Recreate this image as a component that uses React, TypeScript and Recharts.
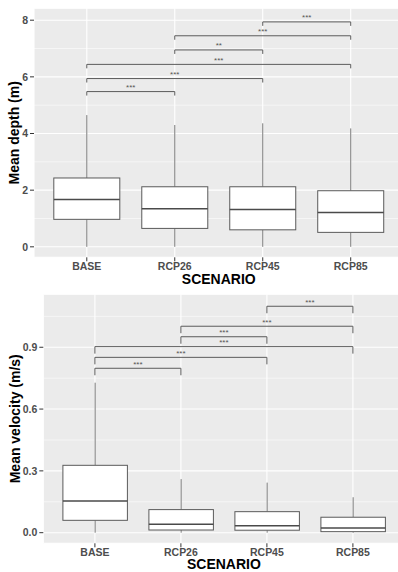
import { ComposedChart, Bar, XAxis, YAxis, CartesianGrid, ReferenceLine } from "recharts";

const scenarios = ["BASE", "RCP26", "RCP45", "RCP85"];

// Mean depth (m): whisker ends, quartiles, median
const depthLow = [0, 0, 0, 0];
const depthQ1 = [0.97, 0.65, 0.6, 0.51];
const depthMed = [1.67, 1.34, 1.32, 1.21];
const depthQ3 = [2.43, 2.12, 2.12, 1.98];
const depthHigh = [4.65, 4.3, 4.36, 4.18];

// Mean velocity (m/s)
const velLow = [0, 0, 0, 0];
const velQ1 = [0.06, 0.013, 0.012, 0.005];
const velMed = [0.154, 0.041, 0.034, 0.023];
const velQ3 = [0.327, 0.112, 0.102, 0.075];
const velHigh = [0.728, 0.26, 0.243, 0.172];

// significance brackets (same pairs in both panels)
const sigPairs = [
  ["BASE", "RCP26"],
  ["BASE", "RCP45"],
  ["BASE", "RCP85"],
  ["RCP26", "RCP45"],
  ["RCP26", "RCP85"],
  ["RCP45", "RCP85"],
];
const depthSigY = [5.48, 5.94, 6.44, 6.95, 7.45, 7.94];
const depthSigLabels = ["***", "***", "***", "**", "***", "***"];
const velSigY = [0.798, 0.851, 0.903, 0.951, 1.002, 1.099];
const velSigLabels = ["***", "***", "***", "***", "***", "***"];

const depthTicks = [0, 2, 4, 6, 8];
const depthMinor = [1, 3, 5, 7];
const velTicks = [0, 0.3, 0.6, 0.9];
const velMinor = [0.15, 0.45, 0.75, 1.05];

const makeRows = (lo: number[], q1: number[], med: number[], q3: number[], hi: number[]) =>
  scenarios.map((s, i) => ({ scenario: s, low: lo[i], q1: q1[i], med: med[i], q3: q3[i], high: hi[i] }));

const depthData = makeRows(depthLow, depthQ1, depthMed, depthQ3, depthHigh);
const velData = makeRows(velLow, velQ1, velMed, velQ3, velHigh);

function BoxShape(props: any) {
  const { x, y, width, height, payload } = props;
  if (!payload) return null;
  const top = Math.min(y, y + height);
  const bottom = Math.max(y, y + height);
  const span = payload.high - payload.low || 1;
  // map a value into the pixel range the bar already got from the y scale
  const py = (v: number) => bottom - ((v - payload.low) / span) * (bottom - top);
  const cx = x + width / 2;
  return (
    <g>
      <line x1={cx} x2={cx} y1={py(payload.high)} y2={py(payload.q3)} stroke="#7a7a7a" strokeWidth={1} />
      <line x1={cx} x2={cx} y1={py(payload.q1)} y2={py(payload.low)} stroke="#7a7a7a" strokeWidth={1} />
      <rect
        x={x}
        y={py(payload.q3)}
        width={width}
        height={py(payload.q1) - py(payload.q3)}
        fill="#fff"
        stroke="#5a5a5a"
        strokeWidth={1}
      />
      <line x1={x} x2={x + width} y1={py(payload.med)} y2={py(payload.med)} stroke="#4a4a4a" strokeWidth={1.5} />
    </g>
  );
}

function brackets(ys: number[], labels: string[], tip: number) {
  const out: any[] = [];
  sigPairs.forEach(([a, b], i) => {
    const yv = ys[i];
    out.push(
      <ReferenceLine
        key={`h${i}`}
        segment={[{ x: a, y: yv }, { x: b, y: yv }]}
        stroke="#5a5a5a"
        strokeWidth={1}
        label={{ value: labels[i], position: "top", offset: 1.5, fontSize: 8, fill: "#555" }}
      />,
      <ReferenceLine key={`l${i}`} segment={[{ x: a, y: yv }, { x: a, y: yv - tip }]} stroke="#5a5a5a" strokeWidth={1} />,
      <ReferenceLine key={`r${i}`} segment={[{ x: b, y: yv }, { x: b, y: yv - tip }]} stroke="#5a5a5a" strokeWidth={1} />
    );
  });
  return out;
}

const tickStyle = { fontSize: 10.5, fontWeight: "bold", fill: "#4d4d4d" };
const titleStyle = { fontSize: 14, fontWeight: "bold", fill: "#000", textAnchor: "middle" as const };

type PanelProps = {
  data: any[];
  height: number;
  marginTop: number;
  marginRight: number;
  yWidth: number;
  pad: number;
  barSize: number;
  domain: [number, number];
  ticks: number[];
  minor: number[];
  fmt: (v: number) => string;
  yTitle: string;
  yTitleX: number;
  xTitleOffset: number;
  sigY: number[];
  sigLabels: string[];
  tip: number;
};

function BoxPanel(p: PanelProps) {
  return (
    <ComposedChart
      width={405}
      height={p.height + 5}
      data={p.data}
      margin={{ top: p.marginTop, right: p.marginRight, left: 0, bottom: 5 }}
    >
      <CartesianGrid fill="#EBEBEB" stroke="#fff" strokeWidth={1.1} />
      <CartesianGrid horizontalValues={p.minor} vertical={false} stroke="#fff" strokeWidth={0.55} />
      <XAxis
        dataKey="scenario"
        type="category"
        interval={0}
        padding={{ left: p.pad, right: p.pad }}
        axisLine={false}
        tickLine={{ stroke: "#333" }}
        tickSize={4}
        tickMargin={1.5}
        height={28}
        tick={tickStyle}
        label={{ value: "SCENARIO", position: "insideBottom", offset: p.xTitleOffset, style: titleStyle }}
      />
      <YAxis
        type="number"
        domain={p.domain}
        ticks={p.ticks}
        allowDataOverflow
        tickFormatter={p.fmt}
        width={p.yWidth}
        axisLine={false}
        tickLine={{ stroke: "#333" }}
        tickSize={4}
        tickMargin={2}
        tick={tickStyle}
        label={{ value: p.yTitle, angle: -90, position: "insideLeft", offset: p.yTitleX, style: titleStyle }}
      />
      <Bar
        dataKey={(d: any) => [d.low, d.high]}
        barSize={p.barSize}
        shape={<BoxShape />}
        isAnimationActive={false}
      />
      {brackets(p.sigY, p.sigLabels, p.tip)}
    </ComposedChart>
  );
}

export default function App() {
  return (
    <div
      style={{
        position: "absolute",
        left: 0,
        top: 0,
        width: 398,
        height: 572,
        overflow: "hidden",
        background: "#fff",
        fontFamily: "'Liberation Sans', Arial, sans-serif",
      }}
    >
      <div style={{ position: "absolute", left: 0, top: 0 }}>
        <BoxPanel
          data={depthData}
          height={285.3}
          marginTop={8.3}
          marginRight={1.5}
          yWidth={34}
          pad={8.8}
          barSize={66}
          domain={[-0.37, 8.42]}
          ticks={depthTicks}
          minor={depthMinor}
          fmt={(v) => String(v)}
          yTitle="Mean depth (m)"
          yTitleX={14.5}
          xTitleOffset={1.2}
          sigY={depthSigY}
          sigLabels={depthSigLabels}
          tip={0.14}
        />
      </div>
      <div style={{ position: "absolute", left: 0, top: 285 }}>
        <BoxPanel
          data={velData}
          height={286.3}
          marginTop={9.3}
          marginRight={0.5}
          yWidth={43.3}
          pad={8.6}
          barSize={64.5}
          domain={[-0.0515, 1.157]}
          ticks={velTicks}
          minor={velMinor}
          fmt={(v) => v.toFixed(1)}
          yTitle="Mean velocity (m/s)"
          yTitleX={15}
          xTitleOffset={2.2}
          sigY={velSigY}
          sigLabels={velSigLabels}
          tip={0.034}
        />
      </div>
    </div>
  );
}
